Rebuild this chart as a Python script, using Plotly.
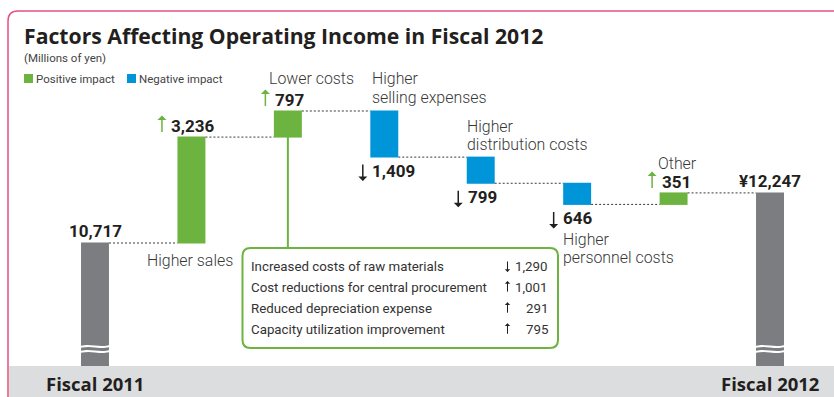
import plotly.graph_objects as go

# ---------------------------------------------------------------- data
categories = [
    "Fiscal 2011", "Higher sales", "Lower costs", "Higher selling expenses",
    "Higher distribution costs", "Higher personnel costs", "Other", "Fiscal 2012",
]
measures = ["absolute", "relative", "relative", "relative",
            "relative", "relative", "relative", "total"]
changes = [10717, 3236, 797, -1409, -799, -646, 351, 0]   # millions of yen

# category captions as drawn (one entry per text line)
caption_lines = [
    [], ["Higher sales"], ["Lower costs"], ["Higher", "selling expenses"],
    ["Higher", "distribution costs"], ["Higher", "personnel costs"], ["Other"], [],
]

# breakdown of "Lower costs"
sub_items = [
    "Increased costs of raw materials",
    "Cost reductions for central procurement",
    "Reduced depreciation expense",
    "Capacity utilization improvement",
]
sub_values = [-1290, 1001, 291, 795]

# ---------------------------------------------------------------- style
W, H = 834, 397
GREEN = "#6cb33f"
BLUE = "#0095d9"
GRAY = "#7c7d81"
BAND = "#dcdddf"
PINK = "#e3517f"
DARK = "#231f20"
TXT = "#383838"
BAR_W = 0.29

XR = [-0.9852, 7.6636]
YR = [6012, 18141]

TITLE_FONT = "Open Sans"
BODY_FONT = "Roboto"


def xpx(x):
    return (x - XR[0]) / (XR[1] - XR[0]) * W


def ypx(v):
    return H - (v - YR[0]) / (YR[1] - YR[0]) * H


def pxx(x):
    return x / W


def pxy(y):
    return 1 - y / H


# running totals for each step
ends, starts = [], []
running = 0
for m, v in zip(measures, changes):
    if m == "absolute":
        starts.append(0)
        running = v
    elif m == "relative":
        starts.append(running)
        running += v
    else:
        starts.append(0)
    ends.append(running)

fig = go.Figure(go.Waterfall(
    x=list(range(len(categories))),
    y=changes,
    measure=measures,
    width=BAR_W,
    increasing=dict(marker=dict(color=GREEN)),
    decreasing=dict(marker=dict(color=BLUE)),
    totals=dict(marker=dict(color=GRAY)),
    connector=dict(mode="between", line=dict(color="#3a3a3a", width=1, dash="2px,2px")),
    textinfo="none",
    hoverinfo="skip",
))

annotations = []
shapes = []


def text(x, y, s, size, color=TXT, family=BODY_FONT, weight="normal",
         xanchor="left", yanchor="middle"):
    annotations.append(dict(
        x=pxx(x), y=pxy(y), xref="paper", yref="paper", text=s, showarrow=False,
        xanchor=xanchor, yanchor=yanchor, borderpad=0, borderwidth=0,
        font=dict(size=size, color=color, family=family, weight=weight),
    ))


def arrow(x, tip, tail, color, width=1.5, size=1.0):
    annotations.append(dict(
        x=pxx(x), y=pxy(tip), xref="paper", yref="paper", text="",
        showarrow=True, ax=0, ay=tail - tip, axref="pixel", ayref="pixel",
        arrowhead=1, arrowsize=size, arrowwidth=width, arrowcolor=color,
        standoff=0, startstandoff=0,
    ))


# ---------------------------------------------------------------- header
text(24, 36, "Factors Affecting Operating Income in Fiscal 2012", 21.2,
     color=DARK, family=TITLE_FONT, weight="bold")
text(24, 58, "(Millions of yen)", 11.5, color="#444")
for sx, col, lab in [(24, GREEN, "Positive impact"), (127, BLUE, "Negative impact")]:
    shapes.append(dict(type="rect", xref="paper", yref="paper",
                       x0=pxx(sx), x1=pxx(sx + 9), y0=pxy(74), y1=pxy(83),
                       fillcolor=col, line=dict(width=0)))
    text(sx + 12, 79, lab, 11.5, color="#444")

# ---------------------------------------------------------------- value labels
half = BAR_W / 2 * (W / (XR[1] - XR[0]))
val_dx = [0, -6, 1, 2, 1, 0, 2, 0]
for i, (m, v) in enumerate(zip(measures, changes)):
    cx = xpx(i)
    left = cx - half
    hi = ypx(max(starts[i], ends[i]))
    lo = ypx(min(starts[i], ends[i]))
    if m == "relative":
        tx = left + val_dx[i]
        if v > 0:
            ty = hi - 11
            arrow(tx - 9.5, ty - 10.5, ty + 7.5, GREEN)
        else:
            ty = lo + 14
            arrow(tx - 9.5, ty + 10, ty - 8, DARK)
        text(tx, ty, f"{abs(v):,}", 17, color=DARK, weight="bold")
    else:
        prefix = "¥" if m == "total" else ""
        text(cx, hi - 11.5, f"{prefix}{ends[i]:,}", 17, color=DARK,
             weight="bold", xanchor="center")
        text(cx, 383, categories[i], 18.5, color=DARK, family=TITLE_FONT,
             weight="bold", xanchor="center")

# ---------------------------------------------------------------- captions
# (offset from bar centre, bar edge used, first-line offset)
caption_pos = {1: (-44, "bottom", 18), 2: (-19, "top", -32), 3: (-12, "top", -32),
               4: (-14, "top", -31), 5: (-14, "bottom", 34.6), 6: (-16, "top", -29)}
for i, (dx, edge, dy) in caption_pos.items():
    hi = ypx(max(starts[i], ends[i]))
    lo = ypx(min(starts[i], ends[i]))
    base = hi if edge == "top" else lo
    for k, line in enumerate(caption_lines[i]):
        text(xpx(i) + dx, base + dy + k * 18.7, line, 15.9, color=TXT, weight=300)

# ---------------------------------------------------------------- breakdown box
bx0, bx1, by0, by1, r = 242.5, 558, 248, 348, 8
box_path = (f"M {pxx(bx0 + r)},{pxy(by0)} L {pxx(bx1 - r)},{pxy(by0)} "
            f"Q {pxx(bx1)},{pxy(by0)} {pxx(bx1)},{pxy(by0 + r)} "
            f"L {pxx(bx1)},{pxy(by1 - r)} Q {pxx(bx1)},{pxy(by1)} {pxx(bx1 - r)},{pxy(by1)} "
            f"L {pxx(bx0 + r)},{pxy(by1)} Q {pxx(bx0)},{pxy(by1)} {pxx(bx0)},{pxy(by1 - r)} "
            f"L {pxx(bx0)},{pxy(by0 + r)} Q {pxx(bx0)},{pxy(by0)} {pxx(bx0 + r)},{pxy(by0)} Z")
shapes.append(dict(type="path", xref="paper", yref="paper", path=box_path,
                   fillcolor="white", line=dict(color=GREEN, width=2), layer="above"))
# leader from the "Lower costs" bar down to the box
shapes.append(dict(type="line", xref="paper", yref="paper",
                   x0=pxx(xpx(2)), x1=pxx(xpx(2)),
                   y0=pxy(ypx(starts[2])), y1=pxy(by0),
                   line=dict(color=GREEN, width=2), layer="above"))
for k, (item, val) in enumerate(zip(sub_items, sub_values)):
    ry = 266 + k * 21.1
    text(251, ry, item, 13.3, color="#333")
    text(547.5, ry, f"{abs(val):,}", 13.3, color="#333", xanchor="right")
    if val > 0:
        arrow(507.5, ry - 6, ry + 6, DARK, width=1, size=0.9)
    else:
        arrow(507.5, ry + 6, ry - 6, DARK, width=1, size=0.9)

# ---------------------------------------------------------------- frame and base band
shapes.append(dict(type="rect", xref="paper", yref="paper",
                   x0=pxx(9), x1=1, y0=0, y1=pxy(366),
                   fillcolor=BAND, line=dict(width=0), layer="above"))
shapes.append(dict(type="path", xref="paper", yref="paper",
                   path=(f"M {pxx(8)},0 L {pxx(8)},{pxy(21)} "
                         f"Q {pxx(8)},{pxy(11)} {pxx(18)},{pxy(11)} L 1,{pxy(11)}"),
                   line=dict(color=PINK, width=1.5), layer="above"))

# axis-break marks on the two total bars
for i, m in enumerate(measures):
    if m == "relative":
        continue
    cx = xpx(i)
    x0, x1 = cx - 18, cx + 18
    w = x1 - x0
    for yb in (346.5, 351.5):
        path = (f"M {pxx(x0)},{pxy(yb + 2)} C {pxx(x0 + 0.35 * w)},{pxy(yb - 5)} "
                f"{pxx(x0 + 0.65 * w)},{pxy(yb + 5)} {pxx(x1)},{pxy(yb - 2)}")
        shapes.append(dict(type="path", xref="paper", yref="paper", path=path,
                           line=dict(color="white", width=2), layer="above"))

fig.update_layout(
    width=W, height=H,
    margin=dict(l=0, r=0, t=0, b=0),
    paper_bgcolor="white", plot_bgcolor="white",
    showlegend=False,
    xaxis=dict(range=XR, visible=False, fixedrange=True),
    yaxis=dict(range=YR, visible=False, fixedrange=True),
    annotations=annotations,
    shapes=shapes,
)

fig.write_html("out.html", config={"displayModeBar": False})
